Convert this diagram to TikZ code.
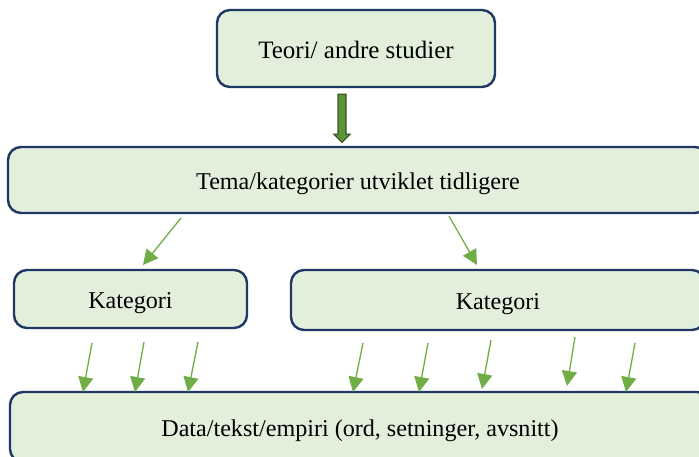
\documentclass[tikz,border=0pt]{standalone}
\usepackage{fontspec}
\setmainfont{Liberation Serif}
\usetikzlibrary{arrows.meta,calc}
\definecolor{boxfill}{HTML}{E2EFDA}
\definecolor{boxline}{HTML}{1F3864}
\definecolor{arrowgreen}{HTML}{70AD47}
\definecolor{bigfill}{HTML}{5B9535}
\definecolor{bigline}{HTML}{385723}
\tikzset{
  box/.style={draw=boxline, line width=2.4pt, fill=boxfill, rounded corners=13pt,
              inner sep=0pt, text height=22pt, text depth=3pt,
              font=\fontsize{24.1}{29}\selectfont},
  link/.style={draw=arrowgreen, line width=1.3pt,
               -{Triangle[length=15pt,width=15pt]}},
  bigarrow/.style={draw=bigline, line width=1.2pt, fill=bigfill}
}
\begin{document}
\begin{tikzpicture}[x=1pt,y=-1pt]
\clip (0,0) rectangle (699,456);
\fill[white] (0,0) rectangle (699,456);

% boxes
\node[box, minimum width=278pt, minimum height=77pt, font=\fontsize{25}{30}\selectfont]
  (teori) at (356,48.5) {Teori/ andre studier};
\node[box, minimum width=700pt, minimum height=66pt] (tema) at (358,180)
  {Tema/kategorier utviklet tidligere};
\node[box, minimum width=233pt, minimum height=58pt] (katA) at (130.5,299) {Kategori};
\node[box, minimum width=414pt, minimum height=60pt] (katB) at (498,300) {Kategori};
\node[box, minimum width=700pt, minimum height=70pt] (data) at (360,427)
  {Data/tekst/empiri (ord, setninger, avsnitt)};

% broad arrow from theory down to themes
\coordinate (bigtop) at ($(teori.south)+(-14,0)$);
\draw[bigarrow]
  ($(bigtop)+(-4,6)$) -- ($(bigtop)+(4,6)$) -- ($(bigtop)+(4,46)$)
  -- ($(bigtop)+(8,46)$) -- ($(bigtop)+(0,54)$)
  -- ($(bigtop)+(-8,46)$) -- ($(bigtop)+(-4,46)$) -- cycle;

% themes to categories
\coordinate (tA) at (181,218);
\coordinate (tB) at (449,216);
\draw[link] (tA) -- (143,265) coordinate (hA);
\draw[link] (tB) -- (477,265) coordinate (hB);

% categories to data
\foreach \sx/\sy/\ex/\ey [count=\i] in {
   92/343/83/392, 144/342/135/392, 198/342/188/392,
   363/343/353/392, 428/343/419/392, 491/340/482/389,
   575/337/567/386, 635/343/626/392}{
  \coordinate (s\i) at (\sx,\sy);
  \coordinate (e\i) at (\ex,\ey);
  \draw[link] (s\i) -- (e\i);
}
\end{tikzpicture}
\end{document}
